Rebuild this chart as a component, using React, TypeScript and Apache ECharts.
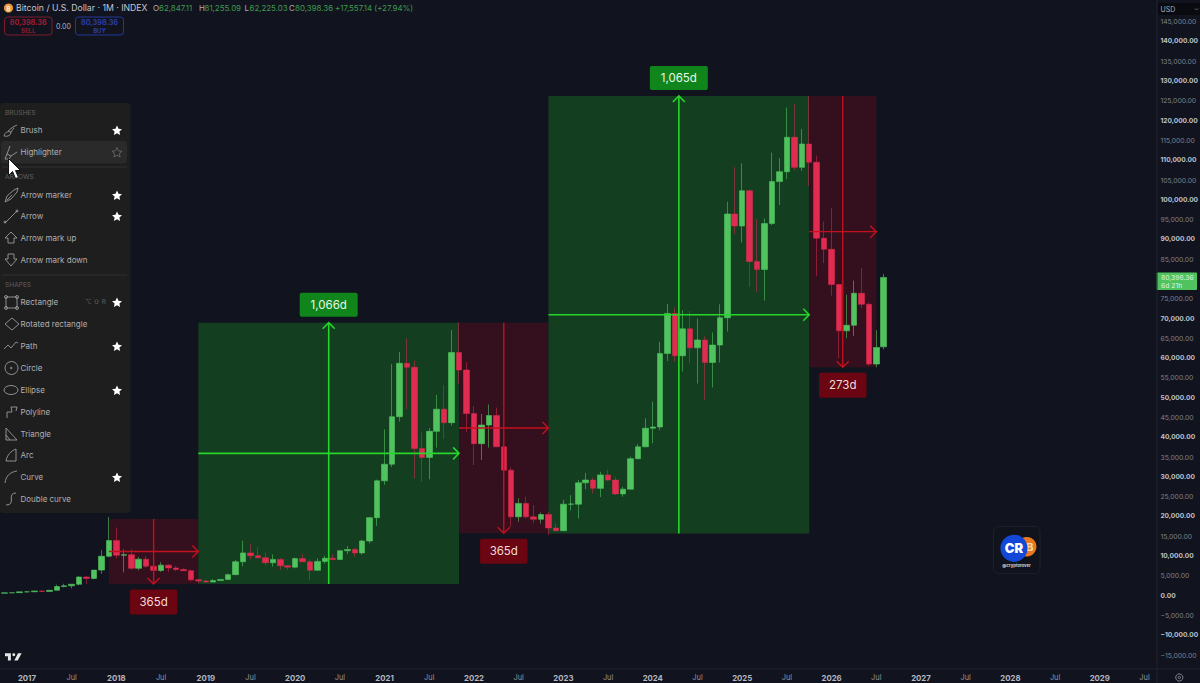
import React, { useEffect, useRef } from "react";
import * as echarts from "echarts";

// ---------- data ----------
const startYear = 2016;
const startMonth = 9; // October 2016, zero-based
const categoryCount = 155;

const opens = [610,700,745,
 960,970,1190,1070,1350,2300,2480,2875,4700,4340,6450,9950,
 13900,10200,10350,6900,9200,7450,6350,7700,7000,6600,6300,4000,
 3700,3430,3800,4100,5300,8550,10800,10100,9600,8300,9150,7550,
 7200,9350,8550,6400,8650,9450,9150,11350,11650,10800,13800,19700,
 29000,33200,45200,58700,57700,37200,34900,41500,47100,43700,61400,57000,
 46000,38400,43100,45500,37600,31700,19900,23300,19900,19300,20500,17100,
 16400,23100,23100,28500,29200,27100,30500,29200,25700,26900,34600,37600,
 42300,42600,61200,71300,60600,67400,62600,64600,58900,63300,70200,96400,
 93400,102300,84400,82400,94000,104600,107100,115800,108200,114100,109500,90300,
 87500,78600,66900,68300,76400,73600,58500,62847];
const closes = [700,745,960,
 970,1190,1070,1350,2300,2480,2875,4700,4340,6450,9950,13900,
 10200,10350,6900,9200,7450,6350,7700,7000,6600,6300,4000,3700,
 3430,3800,4100,5300,8550,10800,10100,9600,8300,9150,7550,7200,
 9350,8550,6400,8650,9450,9150,11350,11650,10800,13800,19700,29000,
 33200,45200,58700,57700,37200,34900,41500,47100,43700,61400,57000,46000,
 38400,43100,45500,37600,31700,19900,23300,19900,19300,20500,17100,16400,
 23100,23150,28500,29200,27100,30500,29200,25700,26900,34600,37600,42300,
 42600,61200,71300,60600,67400,62600,64600,58900,63300,70200,96400,93400,
 102300,84400,82400,94000,104600,107100,115800,108200,114100,109500,90300,87500,
 78600,66900,68300,76400,73600,58500,62700,80398];
const lows = [605,690,740,
 750,920,900,1060,1350,2100,1830,2600,2950,4100,5500,9700,
 9400,5900,6500,6400,7000,5800,6000,6000,6100,6200,3600,3150,
 3350,3400,3700,4100,5300,7450,9200,9400,7700,7300,6500,6400,
 6900,8450,3850,6200,8100,8900,8950,10500,9850,10400,13200,17600,
 28000,32500,44000,47100,29600,28800,29400,37400,39600,43000,53600,41400,
 33000,34300,37400,37600,25400,17400,18700,19500,18300,18200,15300,16300,
 16400,21500,19500,26900,25800,24900,29000,25400,25000,26900,34500,37500,
 38500,41800,59300,59100,56600,58700,53600,49400,52600,58900,66700,91400,
 89200,78000,76800,74500,93600,98700,105200,107500,107300,103500,80700,84000,
 75800,60000,65000,65600,72600,58000,57700,62225];
const highs = [710,755,980,
 1150,1200,1300,1350,2760,3000,2950,4900,5000,6470,11500,19900,
 17200,11700,11700,9750,10000,7800,8450,7900,7400,6950,6600,4300,
 4100,4200,4100,5600,9000,13900,13200,12300,10900,10400,9500,7750,
 9600,10500,9150,9450,10050,10400,11450,12500,12050,14100,19850,29300,
 42000,58500,61600,65000,59400,41200,42300,50700,53200,67100,69000,59000,
 47900,45900,48300,47500,40000,32400,24600,25000,22900,21000,21200,18300,
 24200,25400,29200,31000,29800,31300,31800,30000,27500,35100,38300,44800,
 49000,64100,73700,72800,72100,71900,70000,65500,66500,73600,99500,108200,
 109200,102500,95100,95300,111900,110500,123300,124200,117900,126200,111200,94500,
 97900,78800,76000,79600,82800,74000,67100,81255];

const boxStart = [14, 26, 61, 73, 108];
const boxEnd = [26, 61, 73, 108, 117];
const boxLow = [2930, 2930, 15740, 15700, 57680];
const boxHigh = [19350, 68950, 68950, 126230, 126230];
const boxLabel = ["365d", "1,066d", "365d", "1,065d", "273d"];
const boxUp = [false, true, false, true, false];

const priceTicks = { min: -15000, max: 145000, interval: 5000 };
const hiddenPriceTick = 80000; // covered by the last-price tag in the reference
const lastPriceText = "80,398.36";
const lastPriceTimer = "6d 21h";

const menuRows: [string, number, boolean | null][] = [
  ["Brush", 130, true],
  ["Highlighter", 152, false],
  ["Arrow marker", 195, true],
  ["Arrow", 216, true],
  ["Arrow mark up", 238, null],
  ["Arrow mark down", 260, null],
  ["Rectangle", 302, true],
  ["Rotated rectangle", 324, null],
  ["Path", 346, true],
  ["Circle", 368, null],
  ["Ellipse", 390, true],
  ["Polyline", 412, null],
  ["Triangle", 434, null],
  ["Arc", 455, null],
  ["Curve", 477, true],
  ["Double curve", 499, null],
];
const menuHeads: [string, number][] = [["BRUSHES", 113], ["ARROWS", 177], ["SHAPES", 285]];

const legendParts: [string, number, string][] = [
  ["O", 153, "#a9adb8"], ["62,847.11", 159, "#3f9a50"],
  ["H", 199, "#a9adb8"], ["81,255.09", 204.5, "#3f9a50"],
  ["L", 244.5, "#a9adb8"], ["62,225.03", 249.5, "#3f9a50"],
  ["C", 289, "#a9adb8"], ["80,398.36", 295, "#3f9a50"],
  ["+17,557.14 (+27.94%)", 335, "#3f9a50"],
];

// ---------- look ----------
const BG = "#11141E";
const UP = "#50C35F";
const DOWN = "#E22B50";
const FONT = "Inter, 'Noto Sans', sans-serif";
const ICON = "#9b9b9b";

const iconPaths: Record<string, string> = {
  Brush: "M1 14C2 10 5 9 8 10C8 13 5 15 1 14ZM8 10L11 6M5 9L10 5L14 3",
  Highlighter: "M2 15L4 10L8 12L6 15ZM4 10L7 2M8 12L14 8",
  "Arrow marker": "M2 15L4 9L11 3L15 1L14 5L8 12L2 15M4 13L9 8",
  Arrow: "M2 15L14 3M1 14A1 1 0 1 0 3 14A1 1 0 1 0 1 14ZM13 3A1 1 0 1 0 15 3A1 1 0 1 0 13 3Z",
  "Arrow mark up": "M8 2L14 8L11 8L11 13L5 13L5 8L2 8Z",
  "Arrow mark down": "M5 2L11 2L11 7L14 7L8 14L2 7L5 7Z",
  Rectangle: "M3 3H14V14H3ZM1.5 3A1.5 1.5 0 1 0 4.5 3A1.5 1.5 0 1 0 1.5 3ZM12.5 3A1.5 1.5 0 1 0 15.5 3A1.5 1.5 0 1 0 12.5 3ZM1.5 14A1.5 1.5 0 1 0 4.5 14A1.5 1.5 0 1 0 1.5 14ZM12.5 14A1.5 1.5 0 1 0 15.5 14A1.5 1.5 0 1 0 12.5 14Z",
  "Rotated rectangle": "M9 2L16 8L9 14L2 8Z",
  Path: "M1 11L5 7L8 10L13 4L15 5",
  Circle: "M15 8A6.5 6.5 0 1 1 2 8A6.5 6.5 0 1 1 15 8ZM9 8A0.8 0.8 0 1 1 7.4 8A0.8 0.8 0 1 1 9 8Z",
  Ellipse: "M15 8A7 4.5 0 1 1 1 8A7 4.5 0 1 1 15 8Z",
  Polyline: "M4 14L4 8L9 8L8 3L14 3L13 7",
  Triangle: "M3 2L14 14L3 14ZM3 9L7 14",
  Arc: "M3 14C4 8 8 4 13 2L13 14Z",
  Curve: "M2 14C3 6 8 3 14 2",
  "Double curve": "M13 2C3 2 14 14 3 14",
};
const STAR = "M5 0L6.5 3.3L10 3.7L7.4 6L8.1 9.5L5 7.7L1.9 9.5L2.6 6L0 3.7L3.5 3.3Z";
const TVLOGO = "M14 6H2V12H8V21H14ZM28 21H21L28.5 6H36L28 21ZM23 9A3 3 0 1 1 17 9A3 3 0 1 1 23 9Z";
const CURSOR = "M0 0L0 17L4 13L7 20L10 19L7 12L12 12Z";

function pathShape(name: string, d: string) {
  echarts.graphic.registerShape(name, echarts.graphic.extendPath(d as any, {} as any) as any);
}
pathShape("starShape", STAR);
pathShape("tvLogo", TVLOGO);
pathShape("cursorShape", CURSOR);
Object.keys(iconPaths).forEach((k, i) => pathShape("menuIcon" + i, iconPaths[k]));
const iconIndex = (name: string) => Object.keys(iconPaths).indexOf(name);

const monthCats: string[] = Array.from({ length: categoryCount }, (_, i) => {
  const t = startYear * 12 + startMonth + i;
  return `${Math.floor(t / 12)}-${String((t % 12) + 1).padStart(2, "0")}`;
});
const candleData = opens.map((o, i) => [o, closes[i], lows[i], highs[i]]);
const boxRows = boxStart.map((s, i) => [s, boxEnd[i], boxLow[i], boxHigh[i]]);

function txt(text: string, x: number, y: number, fill: string, font: string, align = "left", z = 100) {
  return {
    type: "text", x, y, z, silent: true,
    style: { text, fill, font, align, verticalAlign: "middle" },
  };
}

function chromeGraphics() {
  const el: any[] = [];
  const Z = 100;
  // separators
  el.push({ type: "line", z: 5, shape: { x1: 1157, y1: 0, x2: 1157, y2: 683 }, style: { stroke: "#20232E", lineWidth: 1 } });
  el.push({ type: "line", z: 5, shape: { x1: 0, y1: 669, x2: 1200, y2: 669 }, style: { stroke: "#20232E", lineWidth: 1 } });
  // legend
  el.push({ type: "circle", z: Z, shape: { cx: 8.5, cy: 8, r: 4.6 }, style: { fill: "#E8963A" } });
  el.push(txt("₿", 8.5, 8, "#fff3d8", `bold 6px ${FONT}`, "center"));
  el.push(txt("Bitcoin / U.S. Dollar · 1M · INDEX", 16, 8, "#c4c7cf", `8.7px ${FONT}`));
  legendParts.forEach(([t, x, c]) => el.push(txt(t, x, 8, c, `7.9px ${FONT}`)));
  // sell / buy
  el.push({ type: "rect", z: Z, shape: { x: 4.5, y: 17, width: 47.5, height: 18, r: 3 }, style: { fill: "none", stroke: "#7f1a2d", lineWidth: 1 } });
  el.push(txt("80,398.36", 28.2, 22, "#a01a33", `bold 7.2px ${FONT}`, "center"));
  el.push(txt("SELL", 28.2, 30, "#8a1a2e", `bold 6px ${FONT}`, "center"));
  el.push(txt("0.00", 63.5, 26, "#b0b3bb", `7px ${FONT}`, "center"));
  el.push({ type: "rect", z: Z, shape: { x: 75.5, y: 17, width: 48, height: 18, r: 3 }, style: { fill: "none", stroke: "#25369a", lineWidth: 1 } });
  el.push(txt("80,398.36", 99.5, 22, "#2a3ca8", `bold 7.2px ${FONT}`, "center"));
  el.push(txt("BUY", 99.5, 30, "#2a3ca8", `bold 6px ${FONT}`, "center"));
  // USD
  el.push({ type: "rect", z: Z, shape: { x: 1158, y: 3, width: 42, height: 12, r: 1 }, style: { fill: "#090B11" } });
  el.push(txt("USD", 1160.5, 9, "#a9adb8", `7px ${FONT}`));
  el.push({ type: "polyline", z: Z, shape: { points: [[1195, 8.5], [1196.5, 10], [1198, 8.5]] }, style: { fill: "none", stroke: "#7b7f8a", lineWidth: 0.8 } });
  // panel
  el.push({ type: "rect", z: Z, shape: { x: 0, y: 103, width: 130.5, height: 410, r: 3 }, style: { fill: "#1E1E1F" } });
  el.push({ type: "rect", z: Z, shape: { x: 1, y: 141, width: 126, height: 22.5, r: 3 }, style: { fill: "#2A2A2B" } });
  el.push({ type: "line", z: Z, shape: { x1: 2, y1: 167, x2: 127, y2: 167 }, style: { stroke: "#303031", lineWidth: 1 } });
  el.push({ type: "line", z: Z, shape: { x1: 2, y1: 275, x2: 127, y2: 275 }, style: { stroke: "#303031", lineWidth: 1 } });
  menuHeads.forEach(([t, y]) => el.push(txt(t, 5, y, "#5f5f61", `6.6px ${FONT}`)));
  menuRows.forEach(([t, y, star]) => {
    el.push(txt(t, 20.5, y, "#b0b0b0", `8px ${FONT}`));
    el.push({ type: "menuIcon" + iconIndex(t), z: Z, x: 3, y: y - 8, style: { fill: "none", stroke: ICON, lineWidth: 0.9 } });
    if (star !== null) {
      el.push({
        type: "starShape", z: Z, x: 112, y: y - 4.5, style: star
          ? { fill: "#ffffff" }
          : { fill: "none", stroke: "#6d6d6d", lineWidth: 0.8 },
      });
    }
  });
  el.push(txt("⌥ ⇧ R", 85, 302, "#5e5e60", `6.4px ${FONT}`));
  el.push({ type: "cursorShape", z: 101, x: 8.5, y: 158.5, style: { fill: "#ffffff", stroke: "#111111", lineWidth: 1 } });
  // TV logo
  el.push({ type: "tvLogo", z: Z, x: 4, y: 650.3, scaleX: 0.49, scaleY: 0.49, style: { fill: "#e6e6e6" } });
  // watermark
  el.push({ type: "rect", z: 6, shape: { x: 993.5, y: 526.5, width: 46.5, height: 47, r: 5 }, style: { fill: "#10131C", stroke: "#1C202C", lineWidth: 1 } });
  el.push({ type: "circle", z: 6, shape: { cx: 1026.7, cy: 546.7, r: 9.8 }, style: { fill: "#E8781E" } });
  el.push(txt("B", 1030, 546.5, "#f6d9a8", `bold 11px ${FONT}`, "center", 6));
  el.push({ type: "circle", z: 6, shape: { cx: 1014, cy: 548.3, r: 13.6 }, style: { fill: "#1347D8" } });
  el.push(txt("CR", 1014, 548.3, "#ffffff", `900 13px ${FONT}`, "center", 6));
  el.push(txt("@cryptorover", 1016.5, 565.4, "#d0d3da", `bold 4.2px ${FONT}`, "center", 6));
  // settings glyph
  el.push({ type: "circle", z: Z, shape: { cx: 1179.3, cy: 677.5, r: 3.6 }, style: { fill: "none", stroke: "#9a9da6", lineWidth: 0.8 } });
  el.push({ type: "circle", z: Z, shape: { cx: 1179.3, cy: 677.5, r: 1.2 }, style: { fill: "none", stroke: "#9a9da6", lineWidth: 0.8 } });
  return el;
}

function renderBox(params: any, api: any) {
  const i = params.dataIndex;
  const a = api.coord([api.value(0), api.value(3)]);
  const b = api.coord([api.value(1), api.value(2)]);
  return {
    type: "rect",
    shape: { x: a[0], y: a[1], width: b[0] - a[0], height: b[1] - a[1] },
    style: { fill: boxUp[i] ? "#143E20" : "#34101E" },
    silent: true,
  };
}

function renderArrow(params: any, api: any) {
  const i = params.dataIndex;
  const up = boxUp[i];
  const a = api.coord([api.value(0), api.value(3)]);
  const b = api.coord([api.value(1), api.value(2)]);
  const mx = (a[0] + b[0]) / 2;
  const my = (a[1] + b[1]) / 2;
  const stroke = up ? "#27D62A" : "#C4101E";
  const lw = up ? 1.6 : 1.4;
  const line = (x1: number, y1: number, x2: number, y2: number) => ({
    type: "line", shape: { x1, y1, x2, y2 }, style: { stroke, lineWidth: lw },
  });
  const head = (pts: number[][]) => ({
    type: "polyline", shape: { points: pts }, style: { stroke, lineWidth: lw, fill: "none" },
  });
  const tipY = up ? a[1] : b[1];
  const s = up ? 1 : -1;
  const w = up ? 58 : 47.5;
  const h = up ? 24 : 25;
  const boxY = up ? a[1] - 6 - h : b[1] + 5.5;
  return {
    type: "group",
    children: [
      line(a[0], my, b[0], my),
      head([[b[0] - 6, my - 6], [b[0], my], [b[0] - 6, my + 6]]),
      line(mx, a[1], mx, b[1]),
      head([[mx - 6, tipY + s * 6], [mx, tipY], [mx + 6, tipY + s * 6]]),
      {
        type: "rect",
        shape: { x: mx - w / 2, y: boxY, width: w, height: h, r: 2 },
        style: { fill: up ? "#10851B" : "#6A0511" },
      },
      {
        type: "text", x: mx, y: boxY + h / 2,
        style: {
          text: boxLabel[i], fill: up ? "#eaf7ea" : "#f3dcdc",
          font: `11.5px ${FONT}`, align: "center", verticalAlign: "middle",
        },
      },
    ],
  };
}

function renderTag(_params: any, api: any) {
  const p = api.coord([api.value(0), api.value(1)]);
  const top = p[1] - 4.8;
  return {
    type: "group",
    children: [
      { type: "rect", shape: { x: 1156.5, y: top, width: 40.5, height: 17.4, r: 1 }, style: { fill: "#4FC35E" } },
      { type: "text", x: 1161, y: top + 4.8, style: { text: lastPriceText, fill: "#dff5e2", font: `6.8px ${FONT}`, align: "left", verticalAlign: "middle" } },
      { type: "text", x: 1161, y: top + 12.6, style: { text: lastPriceTimer, fill: "#dff5e2", font: `6.8px ${FONT}`, align: "left", verticalAlign: "middle" } },
    ],
  };
}

function priceLabel(v: number) {
  if (v === hiddenPriceTick) return "";
  const abs = Math.abs(v).toLocaleString("en-US", { minimumFractionDigits: 2, maximumFractionDigits: 2 });
  const s = (v < 0 ? "−" : "") + abs;
  return v % 10000 === 0 ? `{b|${s}}` : `{n|${s}}`;
}

export default function App() {
  const ref = useRef<HTMLDivElement>(null);
  useEffect(() => {
    document.body.style.margin = "0";
    document.body.style.background = BG;
    const chart = echarts.init(ref.current!, undefined, { renderer: "svg" });
    const lastIdx = closes.length - 1;
    chart.setOption({
      animation: false,
      backgroundColor: BG,
      grid: { left: 0.9, right: 44.35, top: 21.7, bottom: 28, containLabel: false, outerBoundsMode: "none" },
      xAxis: {
        type: "category",
        data: monthCats,
        boundaryGap: true,
        axisLine: { show: false },
        axisTick: { show: false },
        splitLine: { show: false },
        axisLabel: {
          margin: 18.5,
          interval: (_: number, v: string) => v.endsWith("-01") || v.endsWith("-07"),
          hideOverlap: false,
          formatter: (v: string) => (v.endsWith("-01") ? `{y|${v.slice(0, 4)}}` : `{m|Jul}`),
          rich: {
            y: { fontFamily: FONT, fontSize: 7.8, fontWeight: "bold", color: "#b4b7c0" },
            m: { fontFamily: FONT, fontSize: 7.4, color: "#8f929c" },
          },
        },
      },
      yAxis: {
        type: "value",
        position: "right",
        min: priceTicks.min,
        max: priceTicks.max,
        interval: priceTicks.interval,
        scale: true,
        axisLine: { show: false },
        axisTick: { show: false },
        splitLine: { show: false },
        axisLabel: {
          margin: 4.8,
          showMinLabel: true,
          showMaxLabel: true,
          formatter: priceLabel,
          rich: {
            b: { fontFamily: FONT, fontSize: 6.6, fontWeight: "bold", color: "#bfc2ca" },
            n: { fontFamily: FONT, fontSize: 6.8, color: "#7e818c" },
          },
        },
      },
      series: [
        {
          type: "custom", name: "boxes", z: 1, clip: false, silent: true,
          data: boxRows, encode: { x: [0, 1], y: [2, 3] }, renderItem: renderBox,
        },
        {
          type: "candlestick", name: "BTCUSD", z: 2, silent: true,
          data: candleData, barWidth: 6,
          itemStyle: {
            color: UP, color0: DOWN,
            borderColor: "rgba(80,195,95,0.6)", borderColor0: "rgba(226,43,80,0.5)",
            borderWidth: 1,
          },
        },
        {
          type: "custom", name: "arrows", z: 3, clip: false, silent: true,
          data: boxRows, encode: { x: [0, 1], y: [2, 3] }, renderItem: renderArrow,
        },
        {
          type: "custom", name: "lastPrice", z: 4, clip: false, silent: true,
          data: [[lastIdx, closes[lastIdx]]], encode: { x: 0, y: 1 }, renderItem: renderTag,
        },
      ],
      graphic: { elements: chromeGraphics() },
    });
    return () => chart.dispose();
  }, []);
  return <div ref={ref} style={{ width: 1200, height: 683, position: "fixed", left: 0, top: 0 }} />;
}
